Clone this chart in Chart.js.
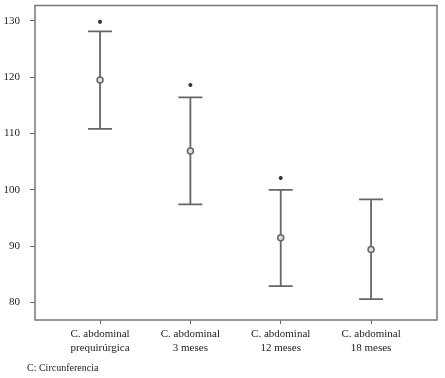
<!DOCTYPE html>
<html>
<head>
<meta charset="utf-8">
<script src="https://cdn.jsdelivr.net/npm/chart.js@4/dist/chart.umd.min.js"></script>
<style>
  body { margin: 0; background: #fff; }
  #wrap { position: relative; width: 445px; height: 378px; }
  #note { position: absolute; left: 27px; top: 362px; font: 10px "Liberation Serif", serif; color: #222; }
</style>
</head>
<body>
<div id="wrap">
  <canvas id="chart" width="445" height="378"></canvas>
  <div id="note">C: Circunferencia</div>
</div>
<script>
const categories = [
  ['C. abdominal', 'prequirúrgica'],
  ['C. abdominal', '3 meses'],
  ['C. abdominal', '12 meses'],
  ['C. abdominal', '18 meses']
];
const means = [119.5, 106.9, 91.5, 89.4];
const upper = [128.1, 116.4, 100.0, 98.3];
const lower = [110.8, 97.4, 82.9, 80.6];
const stars = [129.8, 118.6, 102.1, null];
const yTicks = [80, 90, 100, 110, 120, 130];

const grey = '#666';

// whiskers and caps, plus the frame around the plot
const errorBars = {
  id: 'errorBars',
  beforeDatasetsDraw(chart) {
    const { ctx, chartArea: a, scales: { x, y } } = chart;
    ctx.save();
    ctx.strokeStyle = grey;
    ctx.lineWidth = 1.8;
    means.forEach((m, i) => {
      const px = x.getPixelForValue(i);
      const top = y.getPixelForValue(upper[i]);
      const bot = y.getPixelForValue(lower[i]);
      ctx.beginPath();
      ctx.moveTo(px, top); ctx.lineTo(px, bot);
      ctx.moveTo(px - 12, top); ctx.lineTo(px + 12, top);
      ctx.moveTo(px - 12, bot); ctx.lineTo(px + 12, bot);
      ctx.stroke();
    });
    ctx.strokeStyle = '#777';
    ctx.lineWidth = 1.5;
    ctx.strokeRect(a.left, a.top, a.right - a.left, a.bottom - a.top);
    ctx.restore();
  }
};

new Chart(document.getElementById('chart'), {
  type: 'scatter',
  data: {
    datasets: [
      {
        data: means.map((v, i) => ({ x: i, y: v })),
        pointStyle: 'circle',
        pointRadius: 3,
        borderColor: grey,
        borderWidth: 1.5,
        backgroundColor: '#ddd'
      },
      {
        data: stars.map((v, i) => ({ x: i, y: v })).filter(p => p.y !== null),
        pointStyle: 'star',
        pointRadius: 2,
        borderColor: '#333',
        borderWidth: 1.2
      }
    ]
  },
  options: {
    responsive: false,
    animation: false,
    layout: { padding: { top: 5, right: 8, left: 0, bottom: 0 } },
    plugins: { legend: { display: false }, tooltip: { enabled: false } },
    scales: {
      x: {
        type: 'linear',
        min: -0.72,
        max: 3.73,
        afterBuildTicks: s => { s.ticks = categories.map((c, i) => ({ value: i })); },
        afterFit: s => { s.height = 58; s.paddingLeft = 0; s.paddingRight = 0; },
        grid: { drawOnChartArea: false, drawTicks: true, tickLength: 4, color: grey },
        border: { display: false },
        ticks: {
          callback: (v) => categories[v],
          maxRotation: 0,
          autoSkip: false,
          padding: 4,
          color: '#222',
          font: { family: 'Liberation Serif', size: 11 }
        }
      },
      y: {
        min: 76.9,
        max: 132.7,
        afterBuildTicks: s => { s.ticks = yTicks.map(v => ({ value: v })); },
        afterFit: s => { s.width = 35; s.paddingTop = 0; s.paddingBottom = 0; },
        grid: { drawOnChartArea: false, drawTicks: true, tickLength: 5, color: grey },
        border: { display: false },
        ticks: {
          padding: 10,
          color: '#222',
          font: { family: 'Liberation Serif', size: 11 }
        }
      }
    }
  },
  plugins: [errorBars]
});
</script>
</body>
</html>
